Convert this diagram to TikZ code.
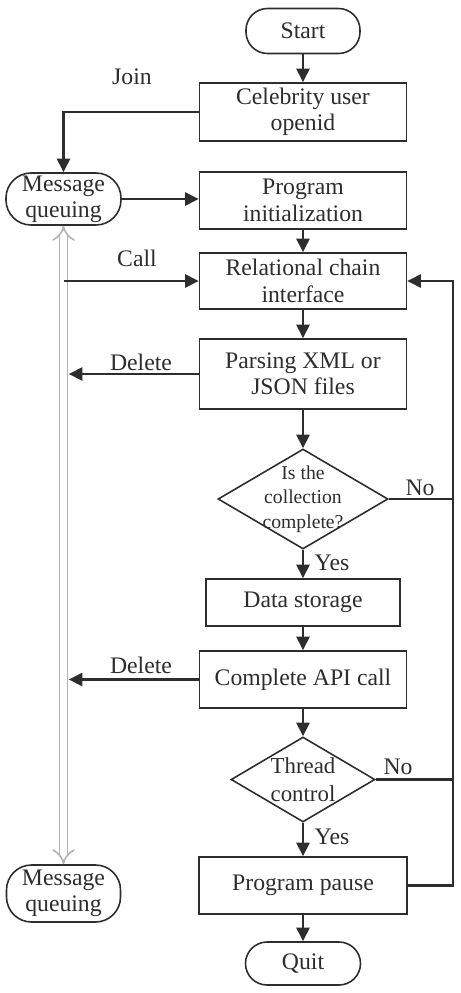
\documentclass[tikz,border=0pt]{standalone}
\usepackage{fontspec}
\setmainfont{Liberation Serif}
\usetikzlibrary{shapes.geometric,arrows.meta}
\definecolor{ink}{RGB}{45,45,45}
\tikzset{
  box/.style={draw=ink,line width=0.9pt,rectangle,minimum width=4.14cm,minimum height=1.14cm,inner sep=0pt,align=center},
  term/.style={draw=ink,line width=0.9pt,rectangle,rounded corners=0.43cm,minimum width=2.28cm,minimum height=0.9cm,inner sep=0pt},
  queue/.style={term,rounded corners=0.5cm,align=center},
  decision/.style={draw=ink,line width=0.9pt,diamond,inner sep=0pt},
  flow/.style={draw=ink,line width=1.3pt,-{Triangle[length=0.27cm,width=0.26cm]}},
  mq/.style={draw=gray!60,line width=0.9pt,double=white,double distance=3.6pt,{Implies}-{Implies}}
}
\begin{document}
\begin{tikzpicture}[font=\fontsize{13.5}{15}\selectfont,text=ink]
	\useasboundingbox (0,0) rectangle (9.2,-19.86);
	\node[term] (start) at (6.06,-0.62) {Start};
	\node[box,minimum height=1.16cm] (celeb) at (6.06,-2.24) {Celebrity user\\openid};
	\node[queue,minimum width=2.3cm,minimum height=1.04cm] (msgA) at (1.27,-3.98) {Message\\queuing};
	\node[box] (init) at (6.06,-4.01) {Program\\initialization};
	\node[box,minimum height=1.12cm] (chain) at (6.06,-5.62) {Relational chain\\interface};
	\node[box,minimum height=1.4cm] (parse) at (6.06,-7.48) {Parsing XML or\\JSON files};
	\node[decision,minimum width=3.4cm,minimum height=2.0cm,
		label={[align=center,font=\fontsize{11.2}{14}\selectfont]center:{Is the\\collection\\complete?}}] (check) at (6.06,-9.98) {};
	\node[box,minimum width=3.88cm,minimum height=0.94cm] (store) at (6.06,-12.05) {Data storage};
	\node[box] (api) at (6.06,-13.59) {Complete API call};
	\node[decision,minimum width=2.88cm,minimum height=1.7cm,
		label={[align=center,font=\fontsize{13}{16}\selectfont]center:{Thread\\control}}] (thread) at (6.06,-15.59) {};
	\node[box,minimum width=4.16cm] (pause) at (6.06,-17.71) {Program pause};
	\node[term,minimum width=2.3cm,minimum height=0.86cm] (quit) at (6.06,-19.27) {Quit};
	\node[queue,minimum height=1.14cm] (msgB) at (1.27,-17.87) {Message\\queuing};
	\node (join) at (2.64,-1.54) {Join};
	\node (call) at (2.74,-5.16) {Call};
	\node (delA) at (2.82,-7.24) {Delete};
	\node (delB) at (2.82,-13.3) {Delete};
	\node (yesA) at (6.64,-11.26) {Yes};
	\node (noA) at (8.4,-9.76) {No};
	\node (yesB) at (6.64,-16.74) {Yes};
	\node (noB) at (7.96,-15.34) {No};
	\coordinate (mqline) at ([xshift=3pt]msgA.south);
	\coordinate (back) at (9.06,-17.71);
	\draw[flow] (start) -- (celeb);
	\draw[flow] (celeb.west) -| (msgA.north);
	\draw[flow] (msgA.east) -- (msgA.east -| init.west);
	\draw[flow] (init) -- (chain);
	\draw[flow] (chain) -- (parse);
	\draw[flow] (parse) -- (check);
	\draw[flow] (check) -- (store);
	\draw[flow] (store) -- (api);
	\draw[flow] (api) -- (thread);
	\draw[flow] (thread) -- (pause);
	\draw[flow] (pause) -- (quit);
	\draw[mq] (msgA.south) -- (msgB.north);
	\draw[flow] (msgA.south |- chain.west) -- (chain.west);
	\draw[flow] (parse.west) -- (mqline |- parse.west);
	\draw[flow] (api.west) -- (mqline |- api.west);
	\draw[flow] (pause.east) -- (back) |- (chain.east);
	\draw[ink,line width=1.3pt] (check.east) -- (check.east -| back);
	\draw[ink,line width=1.3pt] (thread.east) -- (thread.east -| back);
\end{tikzpicture}
\end{document}
